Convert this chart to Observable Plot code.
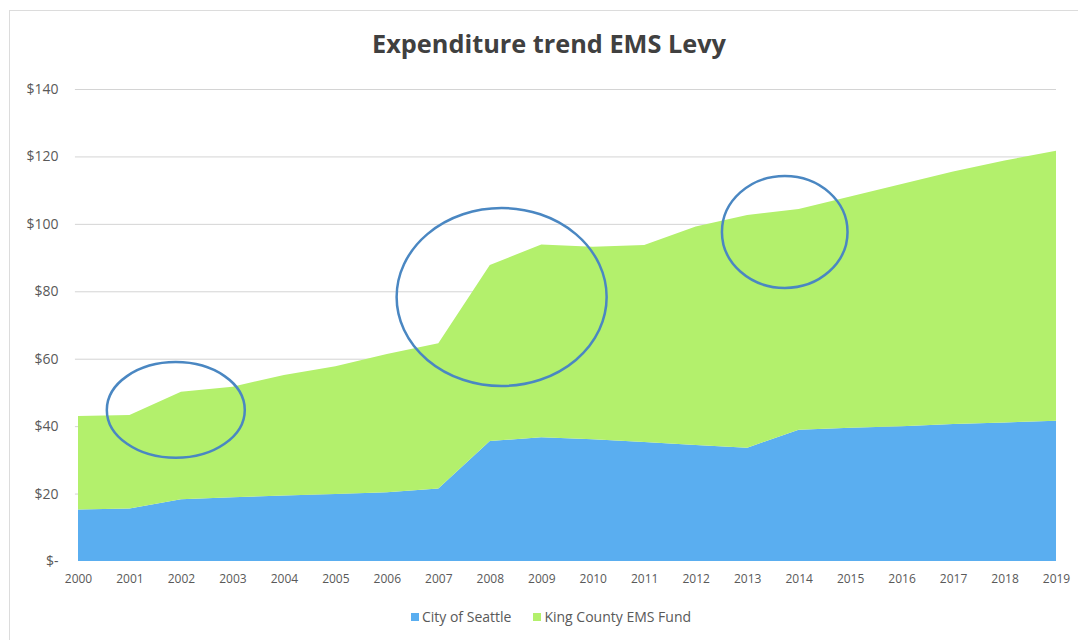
<!DOCTYPE html>
<html>
<head>
<meta charset="utf-8">
<script src="https://cdn.jsdelivr.net/npm/d3@7"></script>
<script src="https://cdn.jsdelivr.net/npm/@observablehq/plot@0.6"></script>
<style>
  html, body { margin: 0; padding: 0; background: #fff; overflow: hidden; }
  body { width: 1078px; height: 640px; position: relative; font-family: "Open Sans", "DejaVu Sans", sans-serif; }
  #frame { position: absolute; left: 9px; top: 10px; width: 1100px; height: 700px; border: 1px solid #dcdcdc; box-sizing: border-box; }
  #title { position: absolute; left: 10px; top: 26px; width: 1078px; text-align: center; font-size: 25.3px; font-weight: 700; color: #404040; }
  #chart { position: absolute; left: 0; top: 75px; }
  #legend { position: absolute; left: 12px; top: 607px; width: 1078px; text-align: center; font-size: 14px; color: #595959; }
  #legend span.item { display: inline-block; margin: 0 11px; }
  #legend span.sw { display: inline-block; width: 8px; height: 8px; margin-right: 3px; vertical-align: 1px; }
</style>
</head>
<body>
<div id="frame"></div>
<div id="title">Expenditure trend EMS Levy</div>
<div id="chart"></div>
<div id="legend"></div>
<script>
const years = [2000,2001,2002,2003,2004,2005,2006,2007,2008,2009,2010,2011,2012,2013,2014,2015,2016,2017,2018,2019];
const seattle = [15.3,15.6,18.3,18.9,19.4,19.9,20.4,21.5,35.6,36.7,36.1,35.3,34.4,33.6,38.9,39.5,40.0,40.6,41.1,41.6];
const kingCounty = [27.7,27.7,31.9,32.8,35.8,37.9,41.0,43.1,52.2,57.2,57.1,58.4,64.8,69.0,65.5,68.6,71.8,74.9,77.7,80.1];
const seriesNames = ["City of Seattle", "King County EMS Fund"];
const seriesColors = ["#5aaef0", "#b3f06c"];
const yTicks = [0,20,40,60,80,100,120,140];
// hand-drawn annotation ellipses (center year, center value, radius in years, radius in $)
const ellipseCx = [2001.9, 2008.23, 2013.73];
const ellipseCy = [44.8, 78.3, 97.6];
const ellipseRx = [1.34, 2.04, 1.22];
const ellipseRy = [14.2, 26.4, 16.6];

const rows = [];
years.forEach((y, i) => rows.push({year: y, series: seriesNames[0], value: seattle[i]}));
years.forEach((y, i) => rows.push({year: y, series: seriesNames[1], value: kingCounty[i]}));

const plot = Plot.plot({
  width: 1078,
  height: 516,
  marginLeft: 78,
  marginRight: 22,
  marginTop: 14,
  marginBottom: 30,
  style: {fontFamily: "'Open Sans', sans-serif", color: "#595959", background: "transparent"},
  x: {domain: [2000, 2019], label: null},
  y: {domain: [0, 140], label: null},
  color: {domain: seriesNames, range: seriesColors},
  marks: [
    Plot.ruleY(yTicks.filter(d => d > 0), {stroke: "#d4d4d4", strokeWidth: 1, x1: 1999.94, x2: 2019}),
    Plot.areaY(rows, {x: "year", y: "value", fill: "series", z: "series", order: seriesNames}),
    Plot.axisX({ticks: years, tickFormat: d => String(d), tickSize: 0, tickPadding: 13, fontSize: 12, fill: "#595959"}),
    Plot.axisY({ticks: yTicks, tickFormat: d => d === 0 ? "$-" : "$" + d, tickSize: 0, tickPadding: 20, fontSize: 14, fill: "#595959"})
  ]
});
document.getElementById("chart").appendChild(plot);

const svg = d3.select(plot.tagName.toLowerCase() === "svg" ? plot : plot.querySelector("svg"));

// annotation ellipses positioned via the plot's own scales
const xs = plot.scale("x"), ys = plot.scale("y");
ellipseCx.forEach((cx, i) => {
  const px = xs.apply(cx), py = ys.apply(ellipseCy[i]);
  const rx = Math.abs(xs.apply(cx + ellipseRx[i]) - px);
  const ry = Math.abs(ys.apply(ellipseCy[i] + ellipseRy[i]) - py);
  svg.append("ellipse").attr("cx", px).attr("cy", py).attr("rx", rx).attr("ry", ry)
    .attr("fill", "none").attr("stroke", "#4a87c2").attr("stroke-width", 2.5);
});

const legend = document.getElementById("legend");
seriesNames.forEach((n, i) => {
  const it = document.createElement("span");
  it.className = "item";
  const sw = document.createElement("span");
  sw.className = "sw";
  sw.style.background = seriesColors[i];
  it.appendChild(sw);
  it.appendChild(document.createTextNode(n));
  legend.appendChild(it);
});
</script>
</body>
</html>
